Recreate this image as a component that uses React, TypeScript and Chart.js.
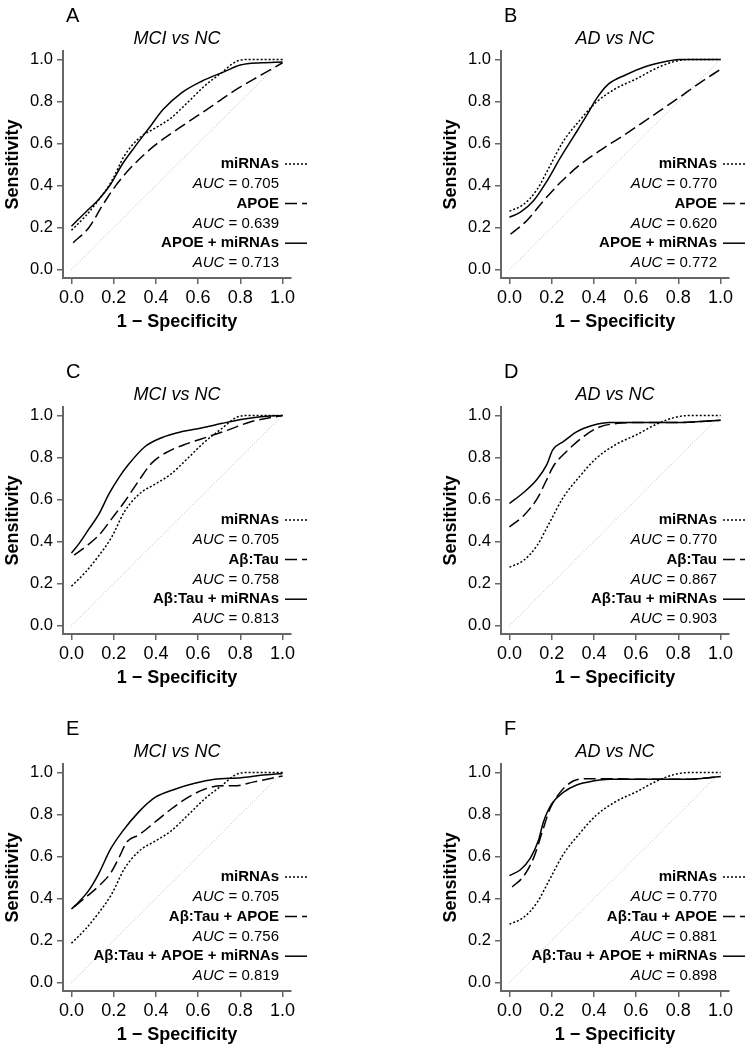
import React, { useEffect, useRef } from "react";
import { Chart, registerables } from "chart.js";

Chart.register(...registerables);

const FONT = '"Liberation Sans", Arial, sans-serif';
const TICKS = [0, 0.2, 0.4, 0.6, 0.8, 1.0];

// miRNAs alone
const MIR_MCI_X = [0, 0.067, 0.13, 0.19, 0.25, 0.32, 0.40, 0.47, 0.55, 0.63, 0.71, 0.78, 0.83, 1];
const MIR_MCI_Y = [0.187, 0.255, 0.333, 0.42, 0.54, 0.625, 0.675, 0.72, 0.795, 0.873, 0.936, 0.99, 1, 1];
const MIR_AD_X = [0, 0.067, 0.13, 0.19, 0.255, 0.333, 0.41, 0.505, 0.6, 0.7, 0.79, 0.865, 1];
const MIR_AD_Y = [0.278, 0.31, 0.38, 0.49, 0.61, 0.71, 0.795, 0.862, 0.907, 0.96, 0.992, 1, 1];

// APOE
const APOE_MCI_X = [0.008, 0.083, 0.146, 0.208, 0.286, 0.396, 0.52, 0.646, 0.77, 0.897, 1];
const APOE_MCI_Y = [0.128, 0.2, 0.304, 0.397, 0.49, 0.592, 0.68, 0.765, 0.85, 0.925, 0.984];
const APOE_AD_X = [0.005, 0.083, 0.161, 0.24, 0.333, 0.443, 0.552, 0.678, 0.803, 0.897, 1];
const APOE_AD_Y = [0.168, 0.234, 0.327, 0.413, 0.498, 0.576, 0.646, 0.732, 0.818, 0.885, 0.953];

// APOE + miRNAs
const APOE_MIR_MCI_X = [0, 0.067, 0.13, 0.185, 0.24, 0.30, 0.365, 0.435, 0.52, 0.615, 0.725, 0.80, 0.897, 1];
const APOE_MIR_MCI_Y = [0.206, 0.273, 0.335, 0.405, 0.50, 0.584, 0.67, 0.763, 0.84, 0.895, 0.942, 0.973, 0.984, 0.988];
const APOE_MIR_AD_X = [0, 0.052, 0.114, 0.177, 0.24, 0.302, 0.365, 0.41, 0.466, 0.552, 0.646, 0.74, 0.803, 1];
const APOE_MIR_AD_Y = [0.249, 0.273, 0.327, 0.42, 0.53, 0.63, 0.732, 0.81, 0.88, 0.927, 0.966, 0.99, 1, 1];

// Abeta:Tau
const ABT_MCI_X = [0.013, 0.067, 0.13, 0.192, 0.255, 0.318, 0.38, 0.458, 0.552, 0.646, 0.74, 0.85, 1];
const ABT_MCI_Y = [0.335, 0.375, 0.43, 0.51, 0.594, 0.688, 0.773, 0.828, 0.867, 0.898, 0.93, 0.97, 1];
const ABT_AD_X = [0, 0.067, 0.13, 0.177, 0.208, 0.27, 0.349, 0.427, 0.505, 0.63, 0.787, 1];
const ABT_AD_Y = [0.469, 0.523, 0.602, 0.695, 0.758, 0.828, 0.898, 0.945, 0.961, 0.966, 0.966, 0.977];

// Abeta:Tau + miRNAs
const ABT_MIR_MCI_X = [0, 0.036, 0.083, 0.13, 0.177, 0.224, 0.27, 0.349, 0.427, 0.52, 0.615, 0.709, 0.803, 0.897, 1];
const ABT_MIR_MCI_Y = [0.345, 0.39, 0.46, 0.53, 0.625, 0.703, 0.766, 0.852, 0.894, 0.922, 0.94, 0.961, 0.981, 0.994, 1];
const ABT_MIR_AD_X = [0, 0.067, 0.13, 0.177, 0.205, 0.255, 0.318, 0.396, 0.474, 0.63, 0.787, 1];
const ABT_MIR_AD_Y = [0.581, 0.633, 0.695, 0.766, 0.836, 0.875, 0.922, 0.953, 0.966, 0.966, 0.966, 0.977];

// Abeta:Tau + APOE
const ABT_APOE_MCI_X = [0.013, 0.067, 0.13, 0.185, 0.224, 0.263, 0.318, 0.396, 0.474, 0.552, 0.63, 0.709, 0.771, 0.865, 1];
const ABT_APOE_MCI_Y = [0.36, 0.405, 0.46, 0.52, 0.592, 0.67, 0.702, 0.764, 0.827, 0.881, 0.92, 0.936, 0.936, 0.955, 0.983];
const ABT_APOE_AD_X = [0.013, 0.067, 0.114, 0.153, 0.192, 0.24, 0.302, 0.365, 0.474, 0.63, 0.834, 1];
const ABT_APOE_AD_Y = [0.455, 0.506, 0.592, 0.709, 0.827, 0.905, 0.959, 0.97, 0.97, 0.967, 0.967, 0.98];

// Abeta:Tau + APOE + miRNAs
const ALL_MCI_X = [0, 0.036, 0.083, 0.13, 0.185, 0.24, 0.318, 0.396, 0.49, 0.584, 0.678, 0.803, 0.897, 1];
const ALL_MCI_Y = [0.35, 0.385, 0.44, 0.52, 0.635, 0.717, 0.811, 0.881, 0.92, 0.948, 0.967, 0.975, 0.986, 0.995];
const ALL_AD_X = [0, 0.052, 0.099, 0.138, 0.161, 0.2, 0.255, 0.318, 0.396, 0.474, 0.63, 0.834, 1];
const ALL_AD_Y = [0.509, 0.537, 0.592, 0.678, 0.764, 0.85, 0.905, 0.94, 0.959, 0.967, 0.967, 0.967, 0.98];

const DOT = [2, 2];
const DASH = [12, 5];
const SOLID: number[] = [];

type Curve = { label: string; auc: string; xs: number[]; ys: number[]; dash: number[] };
type PanelDef = { letter: string; title: string; left: number; top: number; curves: Curve[] };

const COL_X = [0, 438];
const ROW_Y = [0, 356, 713];

const PANELS: PanelDef[] = [
  {
    letter: "A", title: "MCI vs NC", left: COL_X[0], top: ROW_Y[0],
    curves: [
      { label: "miRNAs", auc: "0.705", xs: MIR_MCI_X, ys: MIR_MCI_Y, dash: DOT },
      { label: "APOE", auc: "0.639", xs: APOE_MCI_X, ys: APOE_MCI_Y, dash: DASH },
      { label: "APOE + miRNAs", auc: "0.713", xs: APOE_MIR_MCI_X, ys: APOE_MIR_MCI_Y, dash: SOLID },
    ],
  },
  {
    letter: "B", title: "AD vs NC", left: COL_X[1], top: ROW_Y[0],
    curves: [
      { label: "miRNAs", auc: "0.770", xs: MIR_AD_X, ys: MIR_AD_Y, dash: DOT },
      { label: "APOE", auc: "0.620", xs: APOE_AD_X, ys: APOE_AD_Y, dash: DASH },
      { label: "APOE + miRNAs", auc: "0.772", xs: APOE_MIR_AD_X, ys: APOE_MIR_AD_Y, dash: SOLID },
    ],
  },
  {
    letter: "C", title: "MCI vs NC", left: COL_X[0], top: ROW_Y[1],
    curves: [
      { label: "miRNAs", auc: "0.705", xs: MIR_MCI_X, ys: MIR_MCI_Y, dash: DOT },
      { label: "Aβ:Tau", auc: "0.758", xs: ABT_MCI_X, ys: ABT_MCI_Y, dash: DASH },
      { label: "Aβ:Tau + miRNAs", auc: "0.813", xs: ABT_MIR_MCI_X, ys: ABT_MIR_MCI_Y, dash: SOLID },
    ],
  },
  {
    letter: "D", title: "AD vs NC", left: COL_X[1], top: ROW_Y[1],
    curves: [
      { label: "miRNAs", auc: "0.770", xs: MIR_AD_X, ys: MIR_AD_Y, dash: DOT },
      { label: "Aβ:Tau", auc: "0.867", xs: ABT_AD_X, ys: ABT_AD_Y, dash: DASH },
      { label: "Aβ:Tau + miRNAs", auc: "0.903", xs: ABT_MIR_AD_X, ys: ABT_MIR_AD_Y, dash: SOLID },
    ],
  },
  {
    letter: "E", title: "MCI vs NC", left: COL_X[0], top: ROW_Y[2],
    curves: [
      { label: "miRNAs", auc: "0.705", xs: MIR_MCI_X, ys: MIR_MCI_Y, dash: DOT },
      { label: "Aβ:Tau + APOE", auc: "0.756", xs: ABT_APOE_MCI_X, ys: ABT_APOE_MCI_Y, dash: DASH },
      { label: "Aβ:Tau + APOE + miRNAs", auc: "0.819", xs: ALL_MCI_X, ys: ALL_MCI_Y, dash: SOLID },
    ],
  },
  {
    letter: "F", title: "AD vs NC", left: COL_X[1], top: ROW_Y[2],
    curves: [
      { label: "miRNAs", auc: "0.770", xs: MIR_AD_X, ys: MIR_AD_Y, dash: DOT },
      { label: "Aβ:Tau + APOE", auc: "0.881", xs: ABT_APOE_AD_X, ys: ABT_APOE_AD_Y, dash: DASH },
      { label: "Aβ:Tau + APOE + miRNAs", auc: "0.898", xs: ALL_AD_X, ys: ALL_AD_Y, dash: SOLID },
    ],
  },
];

const W = 318;
const H = 337;
const PAD_TOP = 51;
const PAD_RIGHT = 27;
const Y_AXIS_W = 63;
const X_AXIS_H = 59;

function PanelChart({ p }: { p: PanelDef }) {
  const ref = useRef<HTMLCanvasElement | null>(null);
  useEffect(() => {
    if (!ref.current) return;
    const datasets: any[] = p.curves.map((c) => ({
      label: c.label,
      data: c.xs.map((x, i) => ({ x, y: c.ys[i] })),
      borderColor: "#000",
      borderWidth: 1.5,
      borderDash: c.dash,
      pointRadius: 0,
      showLine: true,
      fill: false,
      cubicInterpolationMode: "monotone",
    }));
    datasets.push({
      label: "diag",
      data: [{ x: 0, y: 0 }, { x: 1, y: 1 }],
      borderColor: "#b5b5b5",
      borderWidth: 1,
      borderDash: [1, 2],
      pointRadius: 0,
      showLine: true,
      fill: false,
    });

    const annot = {
      id: "annot",
      afterDraw(chart: any) {
        const { ctx, chartArea } = chart;
        ctx.save();
        ctx.fillStyle = "#000";
        ctx.textBaseline = "middle";
        ctx.font = `20px ${FONT}`;
        ctx.textAlign = "left";
        ctx.fillText(p.letter, 66, 16);
        ctx.font = `italic 18px ${FONT}`;
        ctx.textAlign = "center";
        ctx.fillText(p.title, (chartArea.left + chartArea.right) / 2, 39);

        const rx = chartArea.right - 12;
        const step = 19.8;
        let y = chartArea.bottom - 114;
        p.curves.forEach((c) => {
          ctx.textAlign = "right";
          ctx.font = `bold 15px ${FONT}`;
          ctx.fillText(c.label, rx, y);
          ctx.beginPath();
          ctx.setLineDash(c.dash);
          ctx.lineWidth = 1.5;
          ctx.strokeStyle = "#000";
          ctx.moveTo(rx + 6, y);
          ctx.lineTo(rx + 28, y);
          ctx.stroke();
          ctx.setLineDash([]);
          const y2 = y + step;
          ctx.font = `15px ${FONT}`;
          const rest = " = " + c.auc;
          ctx.fillText(rest, rx, y2);
          const w = ctx.measureText(rest).width;
          ctx.font = `italic 15px ${FONT}`;
          ctx.fillText("AUC", rx - w, y2);
          y += step * 2;
        });
        ctx.restore();
      },
    };

    const axisCommon = {
      type: "linear",
      min: -0.04,
      max: 1.04,
      afterBuildTicks: (s: any) => {
        s.ticks = TICKS.map((v) => ({ value: v }));
      },
      grid: { drawOnChartArea: false, drawTicks: true, tickLength: 6, color: "#666", lineWidth: 1.5 },
      border: { display: true, color: "#666", width: 2 },
    };

    const chart = new Chart(ref.current, {
      type: "scatter",
      data: { datasets },
      options: {
        responsive: false,
        animation: false,
        devicePixelRatio: 1,
        layout: { padding: { top: PAD_TOP, right: PAD_RIGHT, left: 0, bottom: 0 } },
        plugins: { legend: { display: false }, tooltip: { enabled: false }, title: { display: false } },
        scales: {
          x: {
            ...axisCommon,
            afterFit: (s: any) => {
              s.height = X_AXIS_H;
            },
            ticks: {
              color: "#000",
              font: { family: FONT, size: 18 },
              padding: 3,
              maxRotation: 0,
              autoSkip: false,
              callback: (v: any) => Number(v).toFixed(1),
            },
            title: {
              display: true,
              text: "1 − Specificity",
              color: "#000",
              font: { family: FONT, size: 18, weight: "bold" },
              padding: { top: 0, bottom: 4 },
            },
          },
          y: {
            ...axisCommon,
            afterFit: (s: any) => {
              s.width = Y_AXIS_W;
            },
            ticks: {
              color: "#000",
              font: { family: FONT, size: 16.5 },
              padding: 4,
              autoSkip: false,
              callback: (v: any) => Number(v).toFixed(1),
            },
            title: {
              display: true,
              text: "Sensitivity",
              color: "#000",
              font: { family: FONT, size: 18, weight: "bold" },
              padding: { top: 2, bottom: 0 },
            },
          },
        },
      } as any,
      plugins: [annot],
    });
    return () => chart.destroy();
  }, [p]);
  return (
    <canvas
      ref={ref}
      width={W}
      height={H}
      style={{ position: "absolute", left: p.left, top: p.top, width: W, height: H }}
    />
  );
}

export default function App() {
  return (
    <div style={{ position: "absolute", left: 0, top: 0, width: 756, height: 1050, background: "#fff", overflow: "hidden" }}>
      {PANELS.map((p) => (
        <PanelChart key={p.letter} p={p} />
      ))}
    </div>
  );
}
